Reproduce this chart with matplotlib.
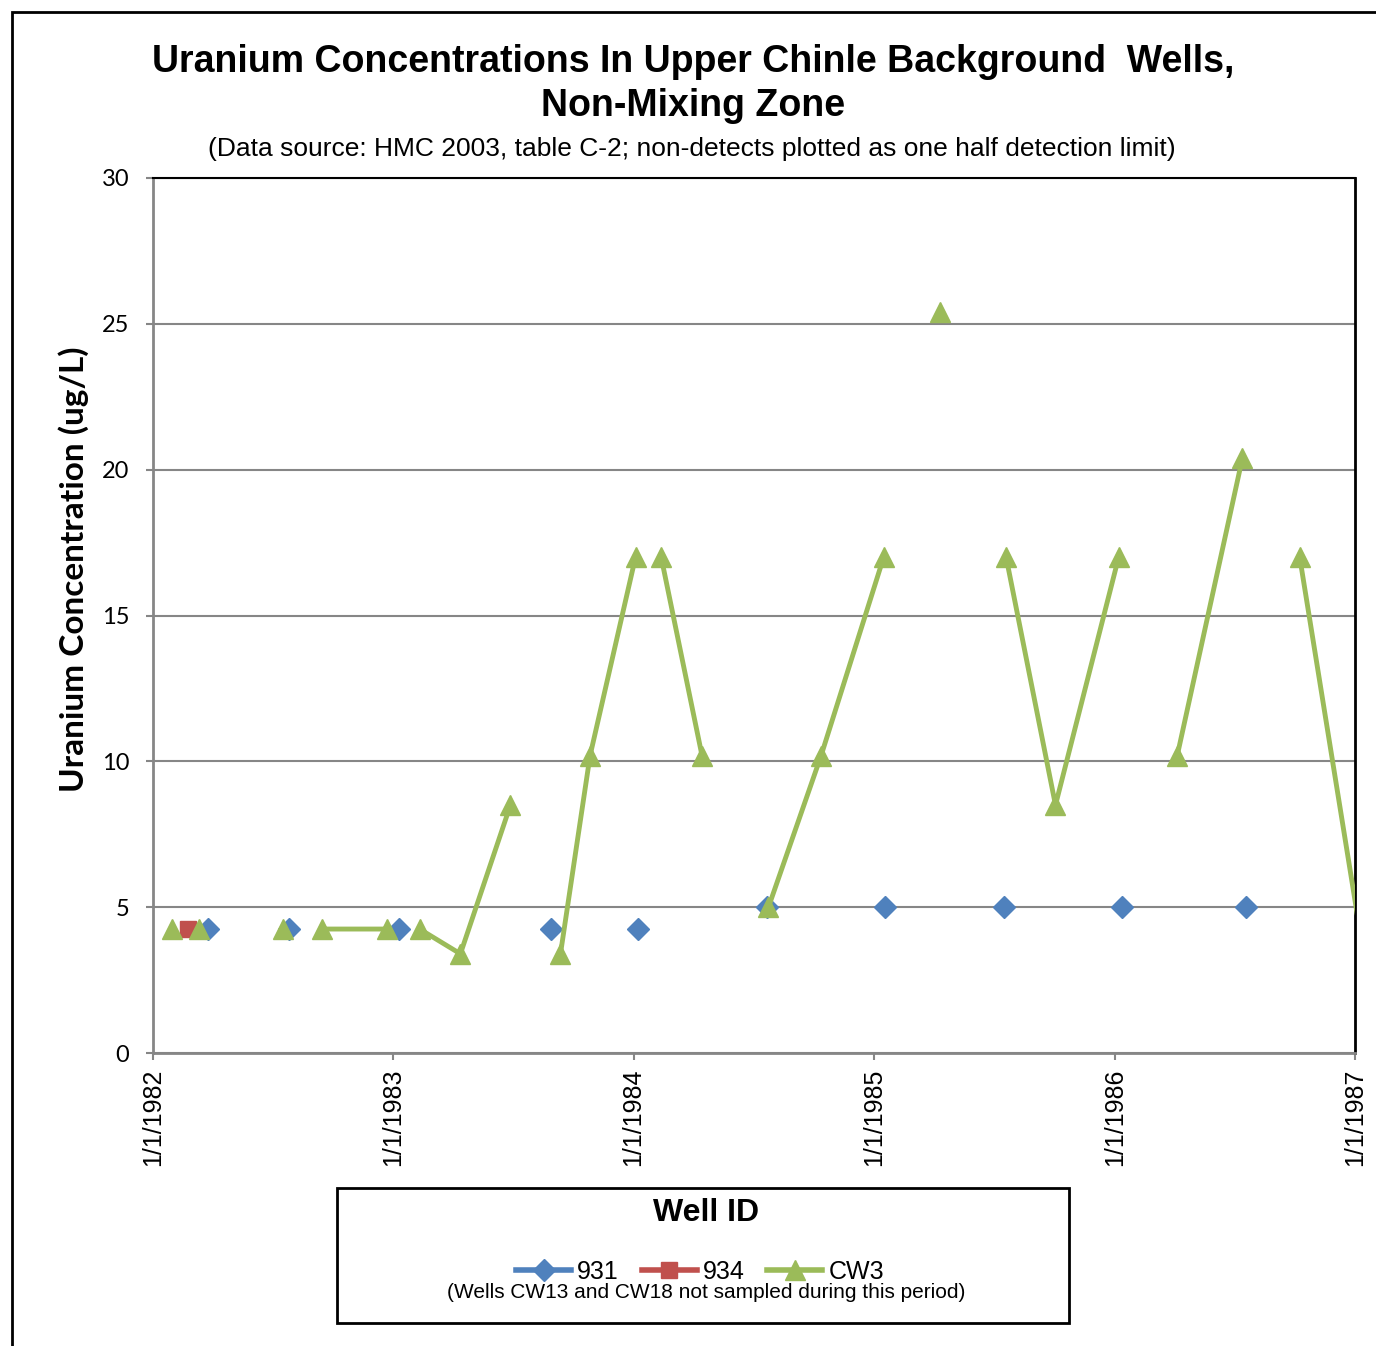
import numpy as np
import pandas as pd
from matplotlib import pyplot as plt
from matplotlib.lines import Line2D
from matplotlib.patches import Rectangle

# well 931 (blue diamonds, no connecting lines in the source)
dates_931 = ['1982-03-26', '1982-07-27', '1983-01-10', '1983-08-28', '1984-01-08',
             '1984-07-21', '1985-01-17', '1985-07-17', '1986-01-12', '1986-07-19']
u_931 = [4.25, 4.25, 4.25, 4.25, 4.25, 5, 5, 5, 5, 5]

# well 934
dates_934 = ['1982-02-23']
u_934 = [4.25]

# well CW3 (None = empty cell -> gap in the line)
dates_cw3 = ['1982-01-30', None, '1982-03-12', None, '1982-07-17', None,
             '1982-09-14', '1982-12-23', None, '1983-02-10', '1983-04-13', '1983-06-28', None,
             '1983-09-12', '1983-10-27', '1984-01-04', None, '1984-02-12', '1984-04-14', None,
             '1984-07-24', '1984-10-12', '1985-01-15', None, '1985-04-10', None,
             '1985-07-20', '1985-10-03', '1986-01-07', None, '1986-04-06', '1986-07-14', None,
             '1986-10-09', '1987-01-08']
u_cw3 = [4.25, None, 4.25, None, 4.25, None,
         4.25, 4.25, None, 4.25, 3.4, 8.5, None,
         3.4, 10.2, 17, None, 17, 10.2, None,
         5, 10.2, 17, None, 25.4, None,
         17, 8.5, 17, None, 10.2, 20.4, None,
         17, 4.25]

years = ['1982', '1983', '1984', '1985', '1986', '1987']

BLUE = '#4F81BD'
RED = '#C0504D'
GREEN = '#9BBB59'
GRID = '#868686'

def toDates(lst):
    return pd.to_datetime(pd.Series(lst))

x0 = pd.Timestamp('1982-01-01')
x1 = pd.Timestamp('1987-01-01')

fig = plt.figure(figsize=(13.76, 13.46), dpi=100)
ax = fig.add_axes([153/1376, 1 - 1053/1346, 1202/1376, 875/1346])

# outer chart frame (left and top edges visible)
fig.add_artist(Rectangle((12/1376, -0.1), 1.2, 1 - 12/1346 + 0.1, transform=fig.transFigure,
                         fill=False, edgecolor='black', linewidth=2))

ax.plot(toDates(dates_931), u_931, linestyle='none', marker='D', markersize=11,
        color=BLUE, zorder=3, clip_on=False)
ax.plot(toDates(dates_934), u_934, linestyle='none', marker='s', markersize=12,
        color=RED, zorder=4, clip_on=False)

# CW3: line over everything, markers only for points inside the date range
d_cw3 = toDates(dates_cw3)
cw3 = pd.Series(u_cw3, dtype=float)
ax.plot(d_cw3, cw3, linestyle='-', linewidth=3.5, color=GREEN, zorder=5)
inside = d_cw3 <= x1
ax.plot(d_cw3[inside], cw3[inside], linestyle='none', marker='^', markersize=14,
        color=GREEN, zorder=5)

ax.set_xlim(x0, x1)
ax.set_ylim(0, 30)
ax.set_yticks(np.arange(0, 31, 5))
ax.set_xticks([pd.Timestamp(y + '-01-01') for y in years])
ax.set_xticklabels(['1/1/' + y for y in years], rotation=90, fontsize=18,
                   family='Liberation Sans')
for lab in ax.get_yticklabels():
    lab.set_family('Lato')
    lab.set_fontsize(17)

ax.grid(axis='y', color=GRID, linewidth=1.5)
ax.set_axisbelow(True)
ax.spines['left'].set_color(GRID)
ax.spines['bottom'].set_color(GRID)
ax.spines['left'].set_linewidth(2)
ax.spines['bottom'].set_linewidth(2)
ax.spines['top'].set_linewidth(1.5)
ax.spines['right'].set_linewidth(2)
ax.tick_params(axis='both', direction='out', length=5, width=1.5, color=GRID, pad=6)
ax.tick_params(axis='y', pad=12)

ax.set_ylabel('Uranium Concentration (ug/L)', fontsize=24, fontweight='bold', family='Lato')
ax.yaxis.set_label_coords(-0.053, 0.553)

fig.text(0.504, 1 - 84/1346, 'Uranium Concentrations In Upper Chinle Background  Wells,\nNon-Mixing Zone',
         ha='center', va='center', fontsize=27, fontweight='bold', family='Liberation Sans',
         linespacing=1.25)
fig.text(0.503, 1 - 149/1346,
         '(Data source: HMC 2003, table C-2; non-detects plotted as one half detection limit)',
         ha='center', va='center', fontsize=19, family='Liberation Sans')

# legend box
fig.add_artist(Rectangle((337/1376, 1 - 1323/1346), 732/1376, 135/1346, transform=fig.transFigure,
                         fill=False, edgecolor='black', linewidth=2))
fig.text(706/1376, 1 - 1213/1346, 'Well ID', ha='center', va='center', fontsize=23,
         fontweight='bold', family='Liberation Sans')
handles = [Line2D([], [], color=BLUE, linewidth=4, marker='D', markersize=11),
           Line2D([], [], color=RED, linewidth=4, marker='s', markersize=12),
           Line2D([], [], color=GREEN, linewidth=4, marker='^', markersize=14)]
fig.legend(handles, ['931', '934', 'CW3'], loc='center', ncol=3, frameon=False,
           bbox_to_anchor=(700/1376, 1 - 1272/1346), handlelength=2.2, handletextpad=0.25,
           columnspacing=0.9, prop={'family': 'Liberation Sans', 'size': 18})
fig.text(706/1376, 1 - 1293/1346, '(Wells CW13 and CW18 not sampled during this period)',
         ha='center', va='center', fontsize=15, family='Liberation Sans')

fig.savefig('out.png', dpi=100)
